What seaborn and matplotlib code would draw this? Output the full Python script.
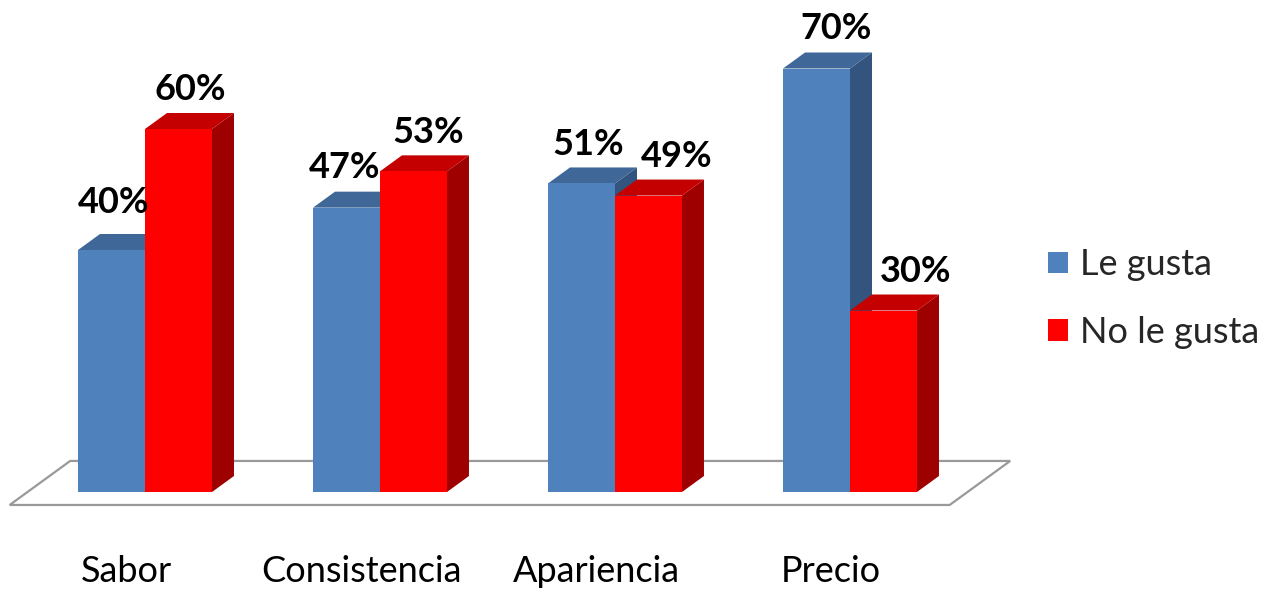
import numpy as np
import pandas as pd
import matplotlib
matplotlib.use("Agg")
import matplotlib.pyplot as plt
import seaborn as sns
from matplotlib.patches import Polygon

# ---- data ----
categories = ["Sabor", "Consistencia", "Apariencia", "Precio"]
series_names = ["Le gusta", "No le gusta"]
le_gusta = [40, 47, 51, 70]
no_le_gusta = [60, 53, 49, 30]

df = pd.DataFrame({
    "Aspecto": categories + categories,
    "Serie": [series_names[0]] * len(categories) + [series_names[1]] * len(categories),
    "Valor": le_gusta + no_le_gusta,
})

# ---- style ----
FRONT = {"Le gusta": "#4F81BD", "No le gusta": "#FF0000"}
TOP = {"Le gusta": "#3F6798", "No le gusta": "#C40000"}
SIDE = {"Le gusta": "#32547E", "No le gusta": "#9E0000"}
DEPTH = np.array([22.0, 16.0])  # pixel offset of the bar depth
FS = 26
# label nudges in pixels (x from front centre, y above front top), per series, per category
LABEL_DX = {"Le gusta": [2.5, -1.5, 6.5, 19.5], "No le gusta": [11.5, 15, 28, 32.5]}
LABEL_DY = {"Le gusta": [37, 30, 28.5, 29.5], "No le gusta": [29, 28, 28.5, 28.5]}

sns.set_style("white")
plt.rcParams["font.family"] = ["Lato", "DejaVu Sans"]

fig = plt.figure(figsize=(12.79, 5.92), dpi=100)
ax = fig.add_axes([0, 0, 1, 1])
sns.barplot(data=df, x="Aspecto", y="Valor", hue="Serie", palette=FRONT,
            width=0.57, saturation=1, linewidth=0, ax=ax)
ax.set_xlim(-145 / 235, (1279 - 145) / 235)
ax.set_ylim(-100 / 6.05, 492 / 6.05)
ax.axis("off")

T = ax.transData
Ti = T.inverted()

def to_data(pts):
    return Ti.transform(np.asarray(pts))

info = []
for j, cont in enumerate(ax.containers):
    serie = series_names[j]
    for ci, p in enumerate(cont.patches):
        info.append((p.get_x(), p, serie, ci))
info.sort(key=lambda t: t[0])

# floor
fl = T.transform([(-0.5, 0), (3.5, 0)])
d0, d1 = -0.81, 1.94
floor_pts = [fl[0] + d0 * DEPTH, fl[1] + d0 * DEPTH, fl[1] + d1 * DEPTH, fl[0] + d1 * DEPTH]
ax.add_patch(Polygon(to_data(floor_pts), closed=True, facecolor="white",
                     edgecolor="#999999", linewidth=1.6, zorder=1))

for k, (_, p, serie, ci) in enumerate(info):
    x0, w, h = p.get_x(), p.get_width(), p.get_height()
    bl, br, tr, tl = T.transform([(x0, 0), (x0 + w, 0), (x0 + w, h), (x0, h)])
    top = [tl, tr, tr + DEPTH, tl + DEPTH]
    side = [br, br + DEPTH, tr + DEPTH, tr]
    base = 10 + 3 * k
    ax.add_patch(Polygon(to_data(side), closed=True, facecolor=SIDE[serie],
                         edgecolor="none", zorder=base))
    ax.add_patch(Polygon(to_data(top), closed=True, facecolor=TOP[serie],
                         edgecolor="none", zorder=base))
    p.set_zorder(base + 1)
    # value label
    lx = (tl[0] + tr[0]) / 2 + LABEL_DX[serie][ci]
    ly = tl[1] + LABEL_DY[serie][ci]
    lxd, lyd = Ti.transform((lx, ly))
    ax.text(lxd, lyd, f"{h:.0f}%", ha="center", va="baseline", fontsize=FS,
            fontweight="bold", color="black", zorder=100)

# category labels
for i, c in enumerate(categories):
    px, py = T.transform((i, 0))
    cx, cy = Ti.transform((px - 19, 10))
    ax.text(cx, cy, c, ha="center", va="baseline", fontsize=FS, color="black")

sns.move_legend(ax, loc="center left", bbox_to_anchor=(1048 / 1279, 1 - 298.5 / 592),
                frameon=False, title=None, fontsize=FS, handlelength=0.55,
                handleheight=0.55, handletextpad=0.35, labelspacing=0.95,
                borderaxespad=0, borderpad=0)

fig.savefig("out.png", dpi=100, facecolor="white")
